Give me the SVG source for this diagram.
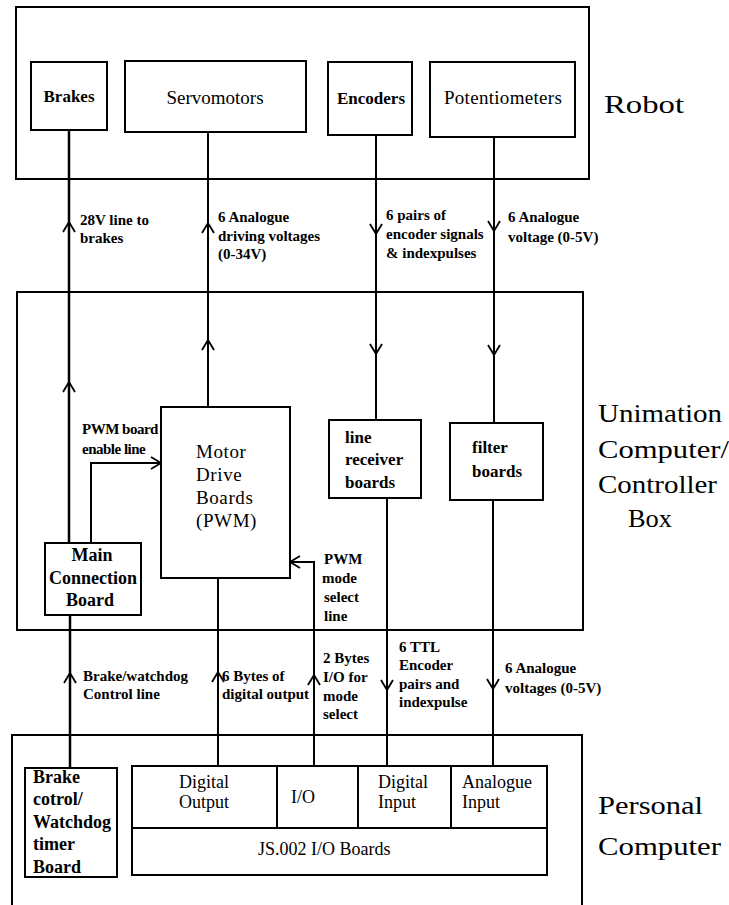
<svg xmlns="http://www.w3.org/2000/svg" xmlns:xlink="http://www.w3.org/1999/xlink" width="729" height="905" viewBox="0 0 729 905">
  <style>
    .frame { fill: none; stroke: #000; stroke-width: 2; }
    .box { fill: #fff; stroke: #000; stroke-width: 2; }
    .wire { fill: none; stroke: #000; stroke-width: 2; }
    .chev { fill: none; stroke: #000; stroke-width: 1.8; stroke-linejoin: miter; }
    .lbl { font-size: 15px; font-weight: bold; }
    .nb { font-size: 17px; font-weight: bold; }
    .nr { font-size: 19px; }
    .nr18 { font-size: 18px; }
    .title { font-size: 26px; }
    .mid { text-anchor: middle; }
  </style>
  <defs>
    <path id="chev-up" class="chev" d="M-6,10 L0,0 L6,10"/>
    <path id="chev-down" class="chev" d="M-6,-10 L0,0 L6,-10"/>
    <path id="chev-right" class="chev" d="M-10,-6 L0,0 L-10,6"/>
    <path id="chev-left" class="chev" d="M10,-6 L0,0 L10,6"/>
  </defs>
  <rect width="729" height="905" fill="#fff"/>

  <!-- enclosures -->
  <g id="robot">
    <rect class="frame" x="16" y="7" width="573" height="172"/>
    <text class="title" font-family="Liberation Serif" x="604" y="113" textLength="80" lengthAdjust="spacingAndGlyphs">Robot</text>
  </g>
  <g id="controller-box">
    <rect class="frame" x="17" y="292" width="566" height="338"/>
    <text class="title" font-family="Liberation Serif" x="598" y="422" textLength="124" lengthAdjust="spacingAndGlyphs">Unimation</text>
    <text class="title" font-family="Liberation Serif" x="598" y="458" textLength="131" lengthAdjust="spacingAndGlyphs">Computer/</text>
    <text class="title" font-family="Liberation Serif" x="598" y="493" textLength="119" lengthAdjust="spacingAndGlyphs">Controller</text>
    <text class="title" font-family="Liberation Serif" x="628" y="527" textLength="44" lengthAdjust="spacingAndGlyphs">Box</text>
  </g>
  <g id="personal-computer">
    <path class="frame" d="M12,906 V735 H582 V906"/>
    <text class="title" font-family="Liberation Serif" x="598" y="814" textLength="105" lengthAdjust="spacingAndGlyphs">Personal</text>
    <text class="title" font-family="Liberation Serif" x="598" y="855" textLength="123" lengthAdjust="spacingAndGlyphs">Computer</text>
  </g>

  <!-- connectors -->
  <g id="connectors">
    <path class="wire" style="stroke-width:2.5" d="M69,130 V543"/>
    <path class="wire" d="M208,132 V407"/>
    <path class="wire" d="M376,135 V420"/>
    <path class="wire" d="M494,137 V423"/>
    <path class="wire" d="M91,543 V463 H161"/>
    <path class="wire" d="M314,766 V562 H290"/>
    <path class="wire" style="stroke-width:2.5" d="M70,615 V768"/>
    <path class="wire" d="M218,578 V766"/>
    <path class="wire" d="M387,498 V766"/>
    <path class="wire" d="M493,500 V766"/>

    <use xlink:href="#chev-up" transform="translate(69,222)"/>
    <use xlink:href="#chev-up" transform="translate(69,382)"/>
    <use xlink:href="#chev-up" transform="translate(208,223)"/>
    <use xlink:href="#chev-up" transform="translate(208,340)"/>
    <use xlink:href="#chev-down" transform="translate(376,234)"/>
    <use xlink:href="#chev-down" transform="translate(376,354)"/>
    <use xlink:href="#chev-down" transform="translate(494,231)"/>
    <use xlink:href="#chev-down" transform="translate(494,355)"/>
    <use xlink:href="#chev-right" transform="translate(161,463)"/>
    <use xlink:href="#chev-left" transform="translate(290,562)"/>
    <use xlink:href="#chev-up" transform="translate(70,673)"/>
    <use xlink:href="#chev-up" transform="translate(218,672)"/>
    <use xlink:href="#chev-up" transform="translate(314,675)"/>
    <use xlink:href="#chev-down" transform="translate(387,690)"/>
    <use xlink:href="#chev-down" transform="translate(493,689)"/>

    <!-- signal labels -->
    <text class="lbl" font-family="Liberation Serif"><tspan x="80" y="225">28V line to</tspan><tspan x="80" y="243">brakes</tspan></text>
    <text class="lbl" font-family="Liberation Serif"><tspan x="218" y="222">6 Analogue</tspan><tspan x="218" y="241">driving voltages</tspan><tspan x="218" y="259">(0-34V)</tspan></text>
    <text class="lbl" font-family="Liberation Serif"><tspan x="386" y="220">6 pairs of</tspan><tspan x="386" y="239">encoder signals</tspan><tspan x="386" y="258">&amp; indexpulses</tspan></text>
    <text class="lbl" font-family="Liberation Serif"><tspan x="508" y="222">6 Analogue</tspan><tspan x="508" y="242">voltage (0-5V)</tspan></text>
    <text class="lbl" font-family="Liberation Serif" letter-spacing="-0.5"><tspan x="82" y="434">PWM board</tspan><tspan x="82" y="454">enable line</tspan></text>
    <text class="lbl" font-family="Liberation Serif"><tspan x="324" y="564">PWM</tspan><tspan x="322" y="583">mode</tspan><tspan x="324" y="602">select</tspan><tspan x="324" y="621">line</tspan></text>
    <text class="lbl" font-family="Liberation Serif"><tspan x="83" y="681">Brake/watchdog</tspan><tspan x="83" y="699">Control line</tspan></text>
    <text class="lbl" font-family="Liberation Serif"><tspan x="222" y="681">6 Bytes of</tspan><tspan x="222" y="699">digital output</tspan></text>
    <text class="lbl" font-family="Liberation Serif"><tspan x="323" y="663">2 Bytes</tspan><tspan x="323" y="682">I/O for</tspan><tspan x="323" y="701">mode</tspan><tspan x="323" y="719">select</tspan></text>
    <text class="lbl" font-family="Liberation Serif"><tspan x="399" y="652">6 TTL</tspan><tspan x="399" y="670">Encoder</tspan><tspan x="399" y="689">pairs and</tspan><tspan x="399" y="707">indexpulse</tspan></text>
    <text class="lbl" font-family="Liberation Serif"><tspan x="505" y="673">6 Analogue</tspan><tspan x="505" y="693">voltages (0-5V)</tspan></text>
  </g>

  <!-- robot components -->
  <g id="brakes">
    <rect class="box" x="31" y="62" width="76" height="68"/>
    <text class="nb mid" font-family="Liberation Serif" x="69" y="102">Brakes</text>
  </g>
  <g id="servomotors">
    <rect class="box" x="125" y="61" width="181" height="71"/>
    <text class="nr mid" font-family="Liberation Serif" x="215" y="104">Servomotors</text>
  </g>
  <g id="encoders">
    <rect class="box" x="328" y="62" width="84" height="73"/>
    <text class="nb mid" font-family="Liberation Serif" x="371" y="104">Encoders</text>
  </g>
  <g id="potentiometers">
    <rect class="box" x="430" y="62" width="145" height="75"/>
    <text class="nr mid" font-family="Liberation Serif" x="503" y="104" letter-spacing="0.3">Potentiometers</text>
  </g>

  <!-- controller box components -->
  <g id="motor-drive-boards">
    <rect class="box" x="161" y="407" width="129" height="171"/>
    <text class="nr" font-family="Liberation Serif" letter-spacing="0.6"><tspan x="196" y="458">Motor</tspan><tspan x="196" y="481">Drive</tspan><tspan x="196" y="504">Boards</tspan><tspan x="196" y="527">(PWM)</tspan></text>
  </g>
  <g id="main-connection-board">
    <rect class="box" x="45" y="543" width="96" height="72"/>
    <text class="nb mid" font-family="Liberation Serif" style="font-size:18px"><tspan x="92" y="561">Main</tspan><tspan x="93" y="584">Connection</tspan><tspan x="90" y="606">Board</tspan></text>
  </g>
  <g id="line-receiver-boards">
    <rect class="box" x="329" y="420" width="92" height="78"/>
    <text class="nb" font-family="Liberation Serif"><tspan x="345" y="443">line</tspan><tspan x="345" y="465">receiver</tspan><tspan x="345" y="488">boards</tspan></text>
  </g>
  <g id="filter-boards">
    <rect class="box" x="450" y="423" width="93" height="77"/>
    <text class="nb" font-family="Liberation Serif"><tspan x="472" y="453">filter</tspan><tspan x="472" y="477">boards</tspan></text>
  </g>

  <!-- personal computer components -->
  <g id="brake-control-board">
    <rect class="box" x="25" y="768" width="92" height="109"/>
    <text class="nb" font-family="Liberation Serif" style="font-size:18px"><tspan x="33" y="783">Brake</tspan><tspan x="33" y="805">cotrol/</tspan><tspan x="33" y="828">Watchdog</tspan><tspan x="33" y="850">timer</tspan><tspan x="33" y="873">Board</tspan></text>
  </g>
  <g id="js002-io-boards">
    <rect class="box" x="132" y="766" width="415" height="109"/>
    <path class="frame" d="M132,828 H547 M277,766 V828 M358,766 V828 M451,766 V828"/>
    <text class="nr18 mid" font-family="Liberation Serif"><tspan x="204" y="788">Digital</tspan><tspan x="204" y="808">Output</tspan></text>
    <text class="nr18 mid" font-family="Liberation Serif" x="303" y="803">I/O</text>
    <text class="nr18" font-family="Liberation Serif"><tspan x="378" y="788">Digital</tspan><tspan x="378" y="808">Input</tspan></text>
    <text class="nr18" font-family="Liberation Serif"><tspan x="462" y="788">Analogue</tspan><tspan x="462" y="808">Input</tspan></text>
    <text class="nr18" font-family="Liberation Serif" x="258" y="855">JS.002 I/O Boards</text>
  </g>
</svg>
